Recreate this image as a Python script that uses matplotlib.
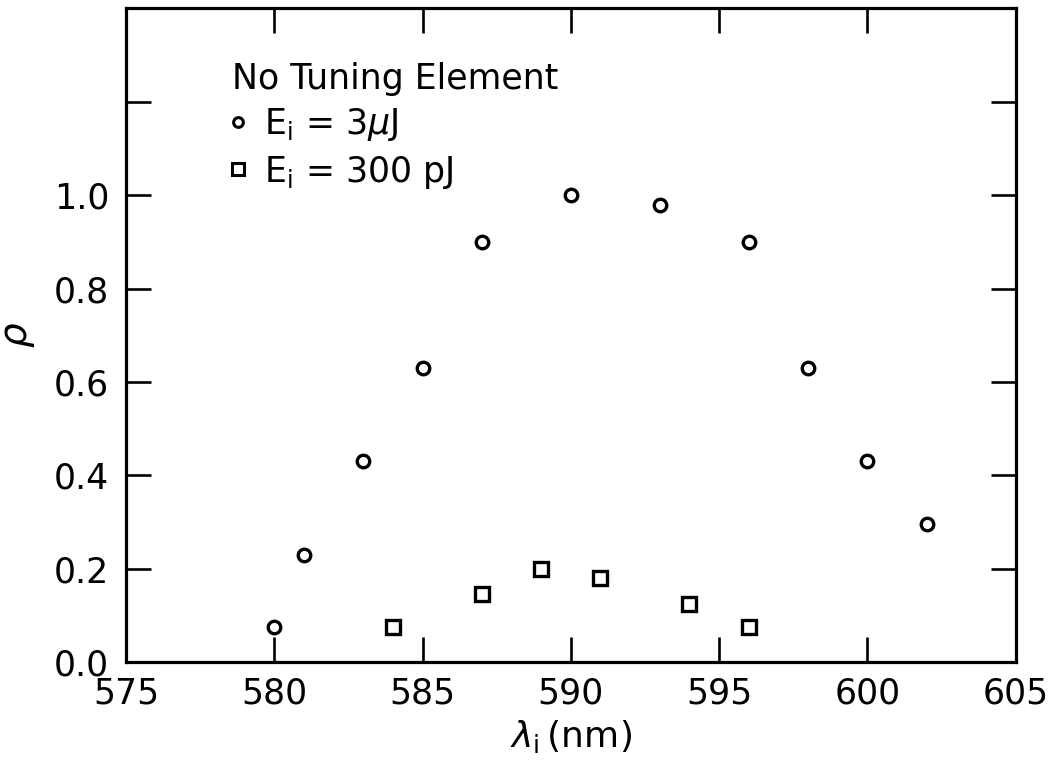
import matplotlib
matplotlib.use("Agg")
import matplotlib.pyplot as plt
from matplotlib.lines import Line2D

# Data
wl_3uJ = [580, 581, 583, 585, 587, 590, 593, 596, 598, 600, 602]
rho_3uJ = [0.075, 0.23, 0.43, 0.63, 0.90, 1.00, 0.98, 0.90, 0.63, 0.43, 0.295]
wl_300pJ = [584, 587, 589, 591, 594, 596]
rho_300pJ = [0.075, 0.145, 0.20, 0.18, 0.125, 0.075]

x_ticks = [575, 580, 585, 590, 595, 600, 605]
x_ticklabels = ["575", "580", "585", "590", "595", "600", "605"]
y_ticks = [0.0, 0.2, 0.4, 0.6, 0.8, 1.0, 1.2]
y_ticklabels = ["0.0", "0.2", "0.4", "0.6", "0.8", "1.0", ""]

legend_title = "No Tuning Element"
label_3uJ = r"E$_\mathrm{i}$ = 3$\mu$J"
label_300pJ = r"E$_\mathrm{i}$ = 300 pJ"

plt.rcParams['font.family'] = ['DejaVu Sans']
plt.rcParams['mathtext.fontset'] = 'dejavusans'

fig = plt.figure(figsize=(10.59, 7.62), dpi=100)
ax = fig.add_axes([0.119, 0.131, 0.840, 0.858])

ax.plot(wl_3uJ, rho_3uJ, linestyle='none', marker='o', ms=9,
        mfc='white', mec='black', mew=2.4)
ax.plot(wl_300pJ, rho_300pJ, linestyle='none', marker='s', ms=10.5,
        mfc='white', mec='black', mew=2.4)

ax.set_xlim(575, 605)
ax.set_ylim(0, 1.40)
ax.set_xticks(x_ticks)
ax.set_xticklabels(x_ticklabels)
ax.set_yticks(y_ticks)
ax.set_yticklabels(y_ticklabels)

ax.tick_params(direction='in', length=18, width=1.9, top=True, right=True,
               labelsize=25)
ax.tick_params(axis='y', pad=12)
ax.tick_params(axis='x', pad=10)
for sp in ax.spines.values():
    sp.set_linewidth(2.3)

ax.set_xlabel(r"$\lambda_\mathrm{i}\,$(nm)", fontsize=26, labelpad=6)
ax.set_ylabel(r"$\rho$", fontsize=28, labelpad=12)

handles = [
    Line2D([], [], linestyle='none', marker='o', ms=7, mfc='white', mec='black', mew=2.2),
    Line2D([], [], linestyle='none', marker='s', ms=8.5, mfc='white', mec='black', mew=2.2),
]
leg = ax.legend(handles, [label_3uJ, label_300pJ], title=legend_title,
                loc='upper left', bbox_to_anchor=(0.1, 0.945), frameon=False,
                fontsize=25, title_fontsize=25, handlelength=0.3,
                handletextpad=0.6, labelspacing=0.3, borderpad=0.0)
leg._legend_box.align = "left"

fig.savefig("out.png", dpi=100)
